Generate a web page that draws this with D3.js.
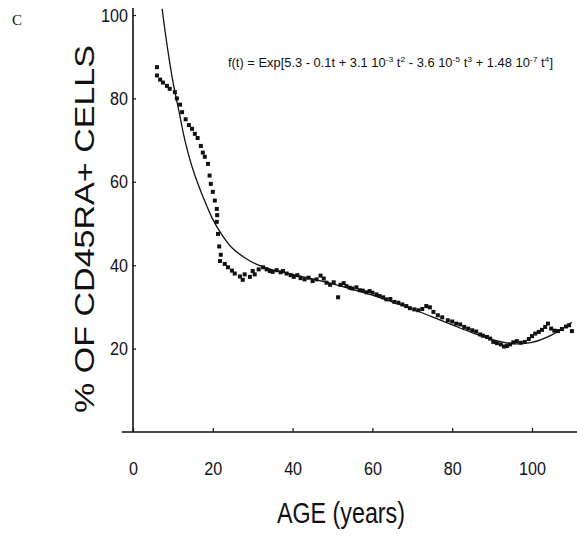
<!DOCTYPE html>
<html><head><meta charset="utf-8">
<script src="https://cdn.jsdelivr.net/npm/d3@7"></script>
<style>body{margin:0;background:#fff}svg{display:block}</style>
</head><body>
<svg id="chart" width="577" height="536"></svg>
<script>
// ---- data ----
const xTicks = [0, 20, 40, 60, 80, 100];
const yTicks = [20, 40, 60, 80, 100];
const panelLabel = "C";
const xTitle = "AGE (years)";
const yTitle = "% OF CD45RA+ CELLS";

// observed values (age, % CD45RA+)
const dataAge = [6.0,6.0,6.8,7.5,8.5,9.2,10.5,11,11.8,12.3,13.2,14,14.8,15.5,16.2,17,17.5,18,18.8,19.2,19.5,20,20.5,21,21.1,21,21.3,21.6,22,21.8,23,23.8,24.8,25.5,26.8,27.5,28,29.3,30,30.5,31.5,32.6,33.5,34.3,35,36,37,37.6,38.5,39.5,40.3,41.2,42,43,44,45,46,47,47.8,48.5,49.4,50.3,51.4,52,52.8,53.5,54.3,55,56,56.8,57.6,58.5,59.3,60,61,61.8,62.7,63.5,64.5,65.5,66.5,67.5,68.5,69.4,70.5,71.5,72.5,73.5,74.4,75.3,76.4,77.5,78.9,80,81,82,83,84,85,86,87,87.7,88.7,89.5,90.3,91.2,92.2,93,93.7,94.5,95.3,96.2,97.2,98.2,99.2,100,100.8,101.7,102.5,103.3,104,104.8,105.6,106.5,107.5,108.5,109.3,110];
const dataPct = [87.5,85.5,84.5,83.8,83,82.3,81.5,80,78.5,76.7,75,73.6,72.7,71.5,70.5,68.6,67,66,64.3,61.5,59.5,57.6,55.5,53.5,52,50.4,47.5,44.5,42.5,41,40.3,39.5,38.7,38,37.3,36.5,37.8,37.2,38.6,37.8,39,39.5,39,38.6,38.4,38.8,38.3,38.6,38,37.6,37.2,37.6,36.9,36.6,37,36.2,36.6,37.5,36.8,35.8,35.3,35.9,32.3,35.3,35.7,35,34.6,34.4,34.7,34,33.9,33.5,33.8,33.4,33,32.6,32.3,31.8,31.9,31.2,31,30.6,30.2,29.7,29.4,29.2,29.5,30.2,29.9,28.8,28,27.5,26.8,26.5,26,25.8,25.2,24.8,24.4,24.1,23.4,23.1,22.8,22.4,21.6,21.3,21,20.5,20.6,21,21.5,21.8,21.4,21.6,22.3,23,23.6,24,24.5,25.2,26,24.8,24.3,24.2,24.7,25.3,25.6,24.2];

// fitted curve
const fitAge = [7.3,8.5,10,11.5,13,15,17.5,20,22.5,25,28,31,35,40,45,50,55,60,65,70,75,80,85,90,95,100,105,110];
const fitPct = [101.5,93,84,77,70,63,56.5,51,47,44,41.8,40.2,38.9,37.8,36.7,35.5,34.2,32.8,31.2,29.5,27.6,25.7,23.8,22.2,21.2,21.5,23.3,26.3];

// ---- chart ----
const svg = d3.select("#chart");
const x = d3.scaleLinear().domain([0, 100]).range([133, 532]);
const y = d3.scaleLinear().domain([0, 100]).range([432, 15]);
const ink = "#111";

// panel label
svg.append("text").attr("x", 12).attr("y", 25)
  .attr("font-family", "Liberation Serif, serif").attr("font-size", 15)
  .attr("fill", ink).text(panelLabel);

// axes
const gx = svg.append("g").attr("transform", `translate(0,${y(0)})`)
  .call(d3.axisBottom(x).tickValues(xTicks).tickSizeInner(-4).tickSizeOuter(0).tickPadding(30).tickFormat(d3.format("d")));
gx.select(".domain").remove();
gx.selectAll("line").attr("stroke", ink).attr("stroke-width", 1.2);
gx.selectAll("text").attr("font-family", "Liberation Sans, Arial, sans-serif").attr("font-size", 19)
  .attr("fill", ink).attr("transform", "scale(0.85,1)");

const gy = svg.append("g").attr("transform", `translate(${x(0)},0)`)
  .call(d3.axisLeft(y).tickValues(yTicks).tickSizeInner(-3).tickSizeOuter(0).tickPadding(6).tickFormat(d3.format("d")));
gy.select(".domain").remove();
gy.selectAll("line").attr("stroke", ink).attr("stroke-width", 1.2);
gy.selectAll("text").attr("font-family", "Liberation Sans, Arial, sans-serif").attr("font-size", 19)
  .attr("fill", ink).attr("transform", "scale(0.85,1)");

// axis lines
svg.append("line").attr("x1", x(-2.8)).attr("x2", 577).attr("y1", y(0)).attr("y2", y(0))
  .attr("stroke", ink).attr("stroke-width", 1.6);
svg.append("line").attr("x1", x(0)).attr("x2", x(0)).attr("y1", y(101.7)).attr("y2", y(0))
  .attr("stroke", ink).attr("stroke-width", 1.6);

// clip for curve
svg.append("clipPath").attr("id", "plotclip").append("rect")
  .attr("x", x(0)).attr("y", y(101.7)).attr("width", 577 - x(0)).attr("height", y(0) - y(101.7));

// fitted curve
const fit = fitAge.map((a, i) => [a, fitPct[i]]);
svg.append("path").datum(fit)
  .attr("clip-path", "url(#plotclip)")
  .attr("d", d3.line().x(d => x(d[0])).y(d => y(d[1])).curve(d3.curveCatmullRom.alpha(0.5)))
  .attr("fill", "none").attr("stroke", ink).attr("stroke-width", 1.3);

// observed points
const pts = dataAge.map((a, i) => [a, dataPct[i]]);
svg.append("g").selectAll("rect").data(pts).join("rect")
  .attr("x", d => x(d[0]) - 2).attr("y", d => y(d[1]) - 2)
  .attr("width", 4).attr("height", 4).attr("fill", ink);

// formula
const ft = svg.append("text").attr("x", 228).attr("y", 67)
  .attr("font-family", "Liberation Sans, Arial, sans-serif").attr("font-size", 12).attr("fill", ink)
  .attr("textLength", 325).attr("lengthAdjust", "spacingAndGlyphs");
const parts = [
  ["f(t) = Exp[5.3 - 0.1t + 3.1 10", 0], ["-3", 1], [" t", 0], ["2", 1],
  [" - 3.6 10", 0], ["-5", 1], [" t", 0], ["3", 1],
  [" + 1.48 10", 0], ["-7", 1], [" t", 0], ["4", 1], ["]", 0]
];
let prevSup = false;
parts.forEach(([s, sup]) => {
  const t = ft.append("tspan").text(s);
  if (sup) { t.attr("font-size", 8).attr("dy", prevSup ? 0 : -5); }
  else if (prevSup) { t.attr("dy", 5); }
  prevSup = !!sup;
});

// axis titles
svg.append("text").attr("x", 341).attr("y", 523).attr("text-anchor", "middle")
  .attr("font-family", "Liberation Sans, Arial, sans-serif").attr("font-size", 29).attr("fill", ink)
  .attr("textLength", 128).attr("lengthAdjust", "spacingAndGlyphs").text(xTitle);

svg.append("text").attr("transform", "translate(94,229) rotate(-90)").attr("text-anchor", "middle")
  .attr("font-family", "Liberation Sans, Arial, sans-serif").attr("font-size", 28).attr("fill", ink)
  .attr("textLength", 368).attr("lengthAdjust", "spacingAndGlyphs").text(yTitle);
</script>
</body></html>
